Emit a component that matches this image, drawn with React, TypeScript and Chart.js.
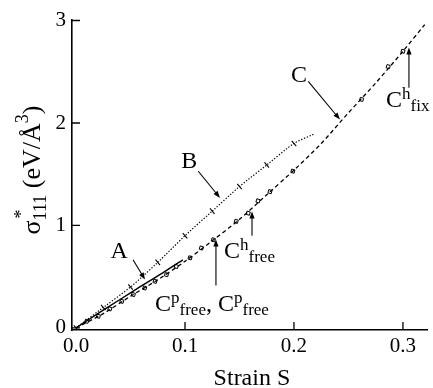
import React, { useEffect, useRef } from "react";
import { Chart, registerables } from "chart.js";
Chart.register(...registerables);

// ---- axis ticks ----
const xTickValues = [0, 0.1, 0.2, 0.3];
const xTickLabels = ["0.0", "0.1", "0.2", "0.3"];
const yTickValues = [0, 1, 2, 3];
const yTickLabels = ["0", "1", "2", "3"];

// ---- curve A (solid) ----
const strainA = [0, 0.02, 0.04, 0.06, 0.08, 0.098];
const stressA = [0, 0.14, 0.275, 0.41, 0.54, 0.665];

// ---- curve B (dotted, tick markers) ----
const strainB = [0, 0.025, 0.05, 0.075, 0.1, 0.125, 0.15, 0.175, 0.2, 0.218];
const stressB = [0, 0.2, 0.4, 0.64, 0.9, 1.14, 1.38, 1.59, 1.8, 1.89];
const markedB = [true, true, true, true, true, true, true, true, true, false];

// ---- curve C (dashed) ----
const strainC = [0, 0.025, 0.05, 0.075, 0.1, 0.125, 0.15, 0.175, 0.2, 0.225, 0.25, 0.275, 0.3, 0.32];
const stressC = [0, 0.14, 0.31, 0.47, 0.65, 0.85, 1.06, 1.3, 1.54, 1.8, 2.1, 2.39, 2.7, 2.96];

// ---- markers on C ----
const strainCpFree = [0.0098, 0.0205, 0.031, 0.042, 0.0526, 0.063, 0.0725, 0.083, 0.092, 0.1046, 0.115, 0.126];
const stressCpFree = [0.065, 0.114, 0.186, 0.26, 0.326, 0.39, 0.455, 0.52, 0.6, 0.684, 0.78, 0.86];
const strainChFree = [0.147, 0.158];
const stressChFree = [1.04, 1.12];
const strainChFix = [0.167, 0.178, 0.199, 0.262, 0.2865, 0.3];
const stressChFix = [1.24, 1.33, 1.53, 2.23, 2.55, 2.7];

// ---- annotation labels (data coordinates) ----
type Part = { t: string; k: "n" | "sup" | "sub" };
const labelTexts: { parts: Part[]; x: number; y: number; align: "left" | "center" }[] = [
  { parts: [{ t: "A", k: "n" }], x: 0.0395, y: 0.684, align: "center" },
  { parts: [{ t: "B", k: "n" }], x: 0.104, y: 1.562, align: "center" },
  { parts: [{ t: "C", k: "n" }], x: 0.2046, y: 2.399, align: "center" },
  { parts: [{ t: "C", k: "n" }, { t: "h", k: "sup" }, { t: "fix", k: "sub" }], x: 0.2845, y: 2.16, align: "left" },
  { parts: [{ t: "C", k: "n" }, { t: "h", k: "sup" }, { t: "free", k: "sub" }], x: 0.1358, y: 0.685, align: "left" },
  {
    parts: [
      { t: "C", k: "n" }, { t: "p", k: "sup" }, { t: "free", k: "sub" }, { t: ", ", k: "n" },
      { t: "C", k: "n" }, { t: "p", k: "sup" }, { t: "free", k: "sub" },
    ],
    x: 0.0725, y: 0.17, align: "left",
  },
];
// arrows: [x1, y1, x2(tip), y2(tip)]
const arrows: number[][] = [
  [0.0523, 0.666, 0.0633, 0.472],
  [0.1122, 1.529, 0.1321, 1.269],
  [0.2131, 2.407, 0.2422, 2.033],
  [0.3055, 2.345, 0.3055, 2.736],
  [0.1615, 0.9, 0.1615, 1.136],
  [0.1284, 0.414, 0.1284, 0.862],
];

const xTitle = "Strain S";

const FONT = '"Liberation Serif", "Times New Roman", serif';

const pts = (xs: number[], ys: number[]) => xs.map((x, i) => ({ x, y: ys[i] }));

function drawArrow(ctx: CanvasRenderingContext2D, x1: number, y1: number, x2: number, y2: number) {
  const ang = Math.atan2(y2 - y1, x2 - x1);
  const L = 7, W = 2.6;
  ctx.beginPath();
  ctx.moveTo(x1, y1);
  ctx.lineTo(x2 - Math.cos(ang) * (L - 1), y2 - Math.sin(ang) * (L - 1));
  ctx.stroke();
  ctx.beginPath();
  ctx.moveTo(x2, y2);
  ctx.lineTo(x2 - Math.cos(ang) * L - Math.sin(ang) * W, y2 - Math.sin(ang) * L + Math.cos(ang) * W);
  ctx.lineTo(x2 - Math.cos(ang) * L + Math.sin(ang) * W, y2 - Math.sin(ang) * L - Math.cos(ang) * W);
  ctx.closePath();
  ctx.fill();
}

function drawParts(ctx: CanvasRenderingContext2D, parts: Part[], x: number, y: number, align: string, mainSize: number, smallSize: number, supOff: number, subOff: number) {
  const fontFor = (k: string) => `${k === "n" ? mainSize : smallSize}px ${FONT}`;
  let total = 0;
  for (const p of parts) {
    ctx.font = fontFor(p.k);
    total += ctx.measureText(p.t).width;
  }
  let cx = align === "center" ? x - total / 2 : x;
  ctx.textAlign = "left";
  ctx.textBaseline = "alphabetic";
  for (const p of parts) {
    ctx.font = fontFor(p.k);
    const dy = p.k === "sup" ? -supOff : p.k === "sub" ? subOff : 0;
    ctx.fillText(p.t, cx, y + dy);
    cx += ctx.measureText(p.t).width;
  }
}

const annotPlugin = {
  id: "annot",
  afterDraw(chart: any) {
    const { ctx, scales } = chart;
    const xs = scales.x, ys = scales.y;
    const area = chart.chartArea;
    ctx.save();
    ctx.fillStyle = "#000";
    ctx.strokeStyle = "#000";

    // inward tick marks
    ctx.lineWidth = 1.3;
    ctx.beginPath();
    for (const v of xTickValues) {
      if (v === 0) continue;
      const px = xs.getPixelForValue(v);
      ctx.moveTo(px, area.bottom);
      ctx.lineTo(px, area.bottom - 8);
    }
    for (const v of yTickValues) {
      const py = ys.getPixelForValue(v);
      ctx.moveTo(area.left, py);
      ctx.lineTo(area.left + 8, py);
    }
    ctx.stroke();

    // arrows
    ctx.lineWidth = 1.1;
    for (const a of arrows) {
      drawArrow(ctx, xs.getPixelForValue(a[0]), ys.getPixelForValue(a[1]), xs.getPixelForValue(a[2]), ys.getPixelForValue(a[3]));
    }

    // labels
    for (const l of labelTexts) {
      drawParts(ctx, l.parts, xs.getPixelForValue(l.x), ys.getPixelForValue(l.y), l.align, 24, 17, 8, 4);
    }

    // x title
    ctx.font = `24px ${FONT}`;
    ctx.textAlign = "center";
    ctx.textBaseline = "alphabetic";
    ctx.fillText(xTitle, (area.left + area.right) / 2 + 2, 385);

    // y title: sigma_111^* (eV/Å^3), rotated
    ctx.save();
    const mainF = `26px ${FONT}`;
    const smallF = `18px ${FONT}`;
    ctx.font = mainF;
    const wSig = ctx.measureText("\u03c3").width;
    const wMid = ctx.measureText(" (eV/\u00c5").width;
    const wEnd = ctx.measureText(")").width;
    ctx.font = smallF;
    const wSub = ctx.measureText("111").width;
    const wSup3 = ctx.measureText("3").width;
    const total = wSig + wSub + wMid + wSup3 + wEnd;
    const centerY = 170;
    ctx.translate(40, centerY + total / 2);
    ctx.rotate(-Math.PI / 2);
    ctx.textAlign = "left";
    ctx.textBaseline = "alphabetic";
    let c = 0;
    ctx.font = mainF;
    ctx.fillText("\u03c3", c, 0);
    c += wSig;
    ctx.font = smallF;
    ctx.fillText("111", c, 6);
    ctx.fillText("*", c + 2, -13);
    c += wSub;
    ctx.font = mainF;
    ctx.fillText(" (eV/\u00c5", c, 0);
    c += wMid;
    ctx.font = smallF;
    ctx.fillText("3", c, -12);
    c += wSup3;
    ctx.font = mainF;
    ctx.fillText(")", c, 0);
    ctx.restore();

    ctx.restore();
  },
};

export default function App() {
  const ref = useRef<HTMLCanvasElement>(null);
  useEffect(() => {
    const canvas = ref.current!;
    const markerCommon = {
      type: "scatter" as const,
      showLine: false,
      pointStyle: "rect",
      pointRadius: 2.4,
      pointBackgroundColor: "#fff",
      pointBorderColor: "#000",
      pointBorderWidth: 1,
      pointRotation: 15,
    };
    const chart = new Chart(canvas, {
      type: "scatter",
      data: {
        datasets: [
          {
            label: "C",
            data: pts(strainC, stressC),
            showLine: true,
            borderColor: "#000",
            borderWidth: 1.3,
            borderDash: [4, 3],
            pointRadius: 0,
            tension: 0.3,
          } as any,
          {
            label: "B",
            data: pts(strainB, stressB),
            showLine: true,
            borderColor: "#000",
            borderWidth: 1.2,
            borderDash: [1.3, 1.7],
            pointStyle: "line",
            pointRotation: 50,
            pointRadius: markedB.map((m) => (m ? 3.5 : 0)),
            pointBorderColor: "#000",
            pointBorderWidth: 1.1,
            tension: 0.3,
          } as any,
          {
            label: "A",
            data: pts(strainA, stressA),
            showLine: true,
            borderColor: "#000",
            borderWidth: 1.4,
            pointRadius: 0,
            tension: 0.2,
          } as any,
          { label: "Cp free", data: pts(strainCpFree, stressCpFree), ...markerCommon } as any,
          { label: "Ch free", data: pts(strainChFree, stressChFree), ...markerCommon } as any,
          { label: "Ch fix", data: pts(strainChFix, stressChFix), ...markerCommon } as any,
        ],
      },
      options: {
        responsive: false,
        devicePixelRatio: 1,
        animation: false,
        layout: { padding: { left: 0, top: 20, right: 5, bottom: 0 } },
        plugins: { legend: { display: false }, tooltip: { enabled: false } },
        scales: {
          x: {
            type: "linear",
            min: -0.0037,
            max: 0.3229,
            grid: { display: false, drawTicks: false },
            border: { display: true, color: "#000", width: 1.6 },
            afterBuildTicks: (s: any) => {
              s.ticks = xTickValues.map((v) => ({ value: v }));
            },
            afterFit: (s: any) => {
              s.height = 58;
            },
            ticks: {
              color: "#000",
              font: { family: FONT, size: 21 },
              padding: 4,
              maxRotation: 0,
              callback: (_v: any, i: number) => xTickLabels[i],
            },
          },
          y: {
            type: "linear",
            min: -0.02,
            max: 3.005,
            grid: { display: false, drawTicks: false },
            border: { display: true, color: "#000", width: 1.6 },
            afterBuildTicks: (s: any) => {
              s.ticks = yTickValues.map((v) => ({ value: v }));
            },
            afterFit: (s: any) => {
              s.width = 72;
            },
            ticks: {
              color: "#000",
              font: { family: FONT, size: 21 },
              padding: 6,
              callback: (_v: any, i: number) => yTickLabels[i],
            },
          },
        },
      } as any,
      plugins: [annotPlugin],
    });
    return () => chart.destroy();
  }, []);
  return (
    <div style={{ position: "fixed", left: 0, top: 0, width: 433, height: 388, background: "#fff" }}>
      <canvas ref={ref} width={433} height={388} style={{ width: 433, height: 388, display: "block" }} />
    </div>
  );
}
